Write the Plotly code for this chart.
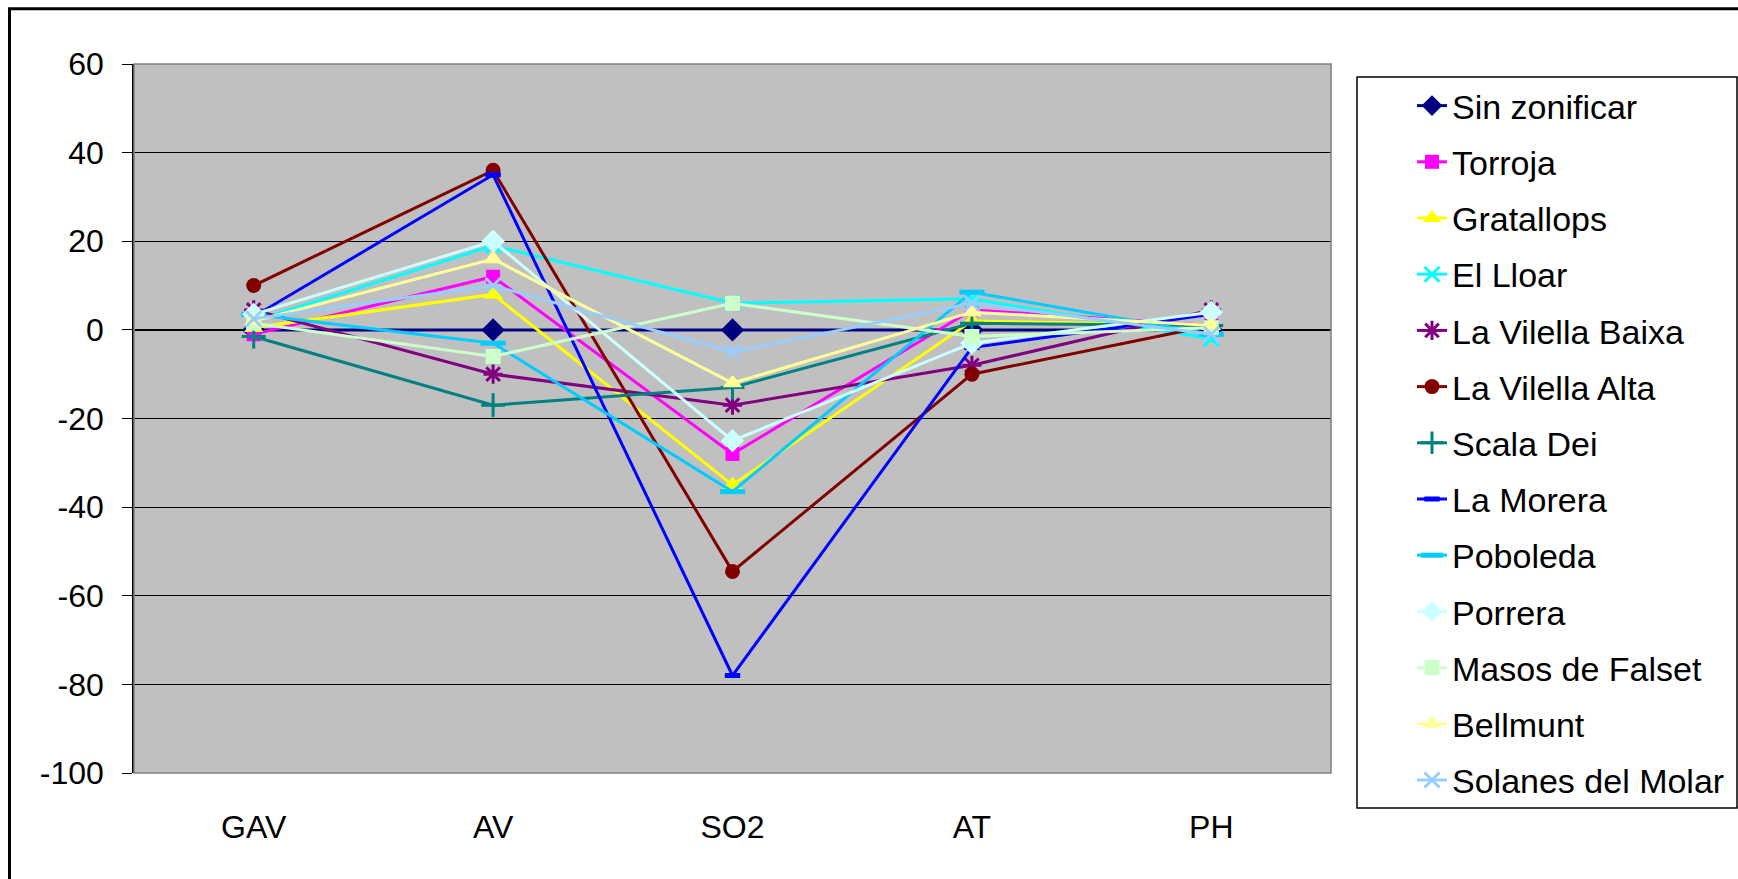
import plotly.graph_objects as go

categories = ["GAV", "AV", "SO2", "AT", "PH"]

series_names = [
    "Sin zonificar", "Torroja", "Gratallops", "El Lloar", "La Vilella Baixa",
    "La Vilella Alta", "Scala Dei", "La Morera", "Poboleda", "Porrera",
    "Masos de Falset", "Bellmunt", "Solanes del Molar",
]

sin_zonificar = [0, 0, 0, 0, 0]
torroja = [-1, 12, -28, 4.5, 1]
gratallops = [0.5, 8, -35, 2, 1]
el_lloar = [2, 19, 6, 7, -2]
la_vilella_baixa = [4.5, -10, -17, -8, 4.5]
la_vilella_alta = [10, 36, -54.5, -10, 1]
scala_dei = [-1.5, -17, -13, 1.5, 1]
la_morera = [3, 35, -78, -4, 3.5]
poboleda = [3.5, -3, -36.5, 8.5, -1]
porrera = [3.5, 20, -25, -3, 4]
masos_de_falset = [1.5, -6, 6, -1.5, 0.5]
bellmunt = [2, 16, -12, 4, 1]
solanes_del_molar = [2.5, 10, -5, 6, -1]

y_ticks = [60, 40, 20, 0, -20, -40, -60, -80, -100]
y_tick_labels = ["60", "40", "20", "0", "-20", "-40", "-60", "-80", "-100"]

values = [sin_zonificar, torroja, gratallops, el_lloar, la_vilella_baixa,
          la_vilella_alta, scala_dei, la_morera, poboleda, porrera,
          masos_de_falset, bellmunt, solanes_del_molar]

colors = ["#000080", "#FF00FF", "#FFFF00", "#00FFFF", "#800080",
          "#800000", "#008080", "#0000FF", "#00CCFF", "#CCFFFF",
          "#CCFFCC", "#FFFF99", "#99CCFF"]

markers = [
    dict(symbol="diamond", size=18),
    dict(symbol="square", size=14),
    dict(symbol="triangle-up", size=17),
    dict(symbol="x-thin-open", size=15, line=dict(width=3)),
    dict(symbol="asterisk-open", size=16, line=dict(width=3)),
    dict(symbol="circle", size=15),
    dict(symbol="cross-thin-open", size=17, line=dict(width=3)),
    dict(symbol="line-ew-open", size=11, line=dict(width=5)),
    dict(symbol="line-ew-open", size=18, line=dict(width=5)),
    dict(symbol="diamond", size=18),
    dict(symbol="square", size=15),
    dict(symbol="triangle-up", size=17),
    dict(symbol="x-thin-open", size=15, line=dict(width=3)),
]

FONT = "Liberation Sans, Arial, sans-serif"
FS_TICK = 32
FS_LEG = 34

fig = go.Figure()
for i, (name, vals, col, mk) in enumerate(zip(series_names, values, colors, markers)):
    m = dict(mk)
    m["color"] = col
    if "line" in m:
        m["line"] = dict(m["line"], color=col)
    fig.add_trace(go.Scatter(
        x=categories, y=vals, name=name, mode="lines+markers",
        line=dict(color=col, width=3), marker=m,
        legendgroup="g%d" % i,
    ))

L, T, R, B = 134, 64, 1331, 773
W, H = 1738, 879
pw, ph = R - L, B - T

fig.update_layout(
    width=W, height=H,
    margin=dict(l=L, r=W - R, t=T, b=H - B, autoexpand=False),
    paper_bgcolor="white",
    plot_bgcolor="#C0C0C0",
    font=dict(family=FONT, size=FS_TICK, color="black"),
    showlegend=True,
    legend=dict(
        x=(1412 - L) / pw, y=1 + (T - 77) / ph, xanchor="left", yanchor="top",
        bgcolor="rgba(0,0,0,0)", borderwidth=0,
        font=dict(family=FONT, size=FS_LEG, color="black"),
        tracegroupgap=9, traceorder="grouped", maxheight=860,
    ),
    xaxis=dict(
        type="category", categoryorder="array", categoryarray=categories,
        range=[-0.5, 4.5], showgrid=False, zeroline=False, showline=False,
        ticks="", tickfont=dict(size=FS_TICK), ticklabelstandoff=32,
    ),
    yaxis=dict(
        range=[-100, 60], tickvals=y_ticks, ticktext=y_tick_labels,
        showgrid=True, gridcolor="black",
        gridwidth=1, zeroline=True, zerolinecolor="black", zerolinewidth=1.5,
        showline=True, linecolor="black", linewidth=1.5,
        ticks="outside", ticklen=10, tickcolor="black", tickwidth=1,
        tickfont=dict(size=FS_TICK), ticklabelstandoff=12,
    ),
    shapes=[
        dict(type="rect", xref="paper", yref="paper", x0=0, x1=1, y0=0, y1=1,
             line=dict(color="#808080", width=1.5), layer="above"),
        dict(type="rect", xref="paper", yref="paper",
             x0=(9.5 - L) / pw, x1=1.5, y0=-0.5, y1=1 + (T - 8.7) / ph,
             line=dict(color="black", width=3)),
        dict(type="rect", xref="paper", yref="paper",
             x0=(1357 - L) / pw, x1=(1737 - L) / pw,
             y0=1 + (T - 808) / ph, y1=1 + (T - 77) / ph,
             line=dict(color="black", width=1.5), fillcolor="white", layer="below"),
    ],
)

fig.write_html("out.html")
